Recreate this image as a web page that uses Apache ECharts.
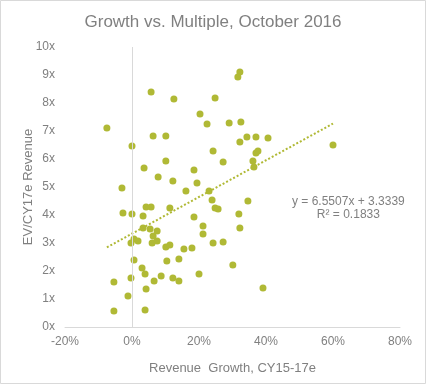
<!DOCTYPE html>
<html>
<head>
<meta charset="utf-8">
<script src="https://cdn.jsdelivr.net/npm/echarts@6/dist/echarts.min.js"></script>
<style>
html,body{margin:0;padding:0;background:#fff;}
#chart{width:426px;height:384px;}
</style>
</head>
<body>
<div id="chart"></div>
<script>
// Revenue growth CY15-17e (%)
var growth = [32.2,31.6,24.8,5.7,12.5,20.3,22.4,29.0,32.5,-7.5,
  6.3,10.1,34.3,37.0,40.6,32.2,60.0,0.0,24.2,37.0,
  37.6,10.1,27.2,36.1,36.4,3.6,18.5,7.8,12.2,19.4,
  -3.0,16.1,23.0,23.9,34.6,24.8,25.7,4.2,5.7,11.3,
  -2.7,0.0,31.9,3.3,18.5,21.2,32.2,3.3,5.4,7.5,
  21.2,6.3,0.6,-0.3,1.8,6.0,7.5,10.1,11.3,15.5,
  17.9,24.2,27.2,0.6,10.4,14.0,3.0,3.9,-0.3,-5.4,
  6.6,8.7,12.2,14.0,20.0,30.1,4.2,-1.2,-5.4,3.9,
  39.1];
// EV / CY17e revenue multiple (x)
var multiple = [9.11,8.93,8.18,8.39,8.14,7.61,7.25,7.29,7.32,7.11,
  6.82,6.82,6.79,6.79,6.75,6.61,6.50,6.46,6.29,6.21,
  6.29,5.93,5.89,5.93,5.71,5.68,5.61,5.36,5.21,5.14,
  4.96,4.86,4.86,4.54,4.50,4.25,4.21,4.29,4.29,4.25,
  4.07,4.04,4.04,3.96,3.93,3.61,3.54,3.54,3.50,3.43,
  3.32,3.25,3.14,3.00,3.07,3.00,3.07,2.86,2.93,2.79,
  2.82,3.00,3.04,2.39,2.36,2.43,2.11,1.89,1.75,1.61,
  1.64,1.82,1.75,1.64,1.89,2.21,1.36,1.11,0.57,0.61,
  1.39];
var xTicks = [-20, 0, 20, 40, 60, 80];
var yTicks = [0,1,2,3,4,5,6,7,8,9,10];
var trendSlope = 6.5507, trendIntercept = 3.3339, rSquared = 0.1833;
var trendRange = [-7.5, 60];

var points = growth.map(function(g, i){ return [g, multiple[i]]; });
var trend = trendRange.map(function(x){ return [x, trendSlope * x / 100 + trendIntercept]; });

var olive = '#b0b935';
var gray = '#808080';
var font = 'Liberation Sans, Arial, sans-serif';

var chart = echarts.init(document.getElementById('chart'));
chart.setOption({
  animation: false,
  backgroundColor: '#fff',
  title: {
    text: 'Growth vs. Multiple, October 2016',
    left: 'center', top: 9,
    textStyle: {color: gray, fontSize: 17, fontWeight: 'normal', fontFamily: font}
  },
  grid: {left: 65, right: 26, top: 47, bottom: 57},
  xAxis: {
    type: 'value', min: xTicks[0], max: xTicks[xTicks.length-1], interval: 20,
    name: 'Revenue  Growth, CY15-17e', nameLocation: 'middle', nameGap: 35,
    nameTextStyle: {color: gray, fontSize: 13, fontFamily: font},
    axisLine: {show: true, onZero: false, lineStyle: {color: '#d9d9d9', width: 1}},
    axisTick: {show: false},
    splitLine: {show: false},
    axisLabel: {color: gray, fontSize: 12, fontFamily: font, margin: 9,
      formatter: function(v){ return v + '%'; }}
  },
  yAxis: {
    type: 'value', min: yTicks[0], max: yTicks[yTicks.length-1], interval: 1,
    name: 'EV/CY17e Revenue', nameLocation: 'middle', nameGap: 30,
    nameMoveOverlap: false,
    nameTextStyle: {color: gray, fontSize: 13, fontFamily: font},
    axisLine: {show: false},
    axisTick: {show: false},
    splitLine: {show: false},
    axisLabel: {color: gray, fontSize: 12, fontFamily: font, margin: 10,
      formatter: function(v){ return v + 'x'; }}
  },
  graphic: [
    {type: 'rect', shape: {x: 0.5, y: 0.5, width: 425, height: 383},
     style: {fill: 'none', stroke: '#d9d9d9', lineWidth: 1}, silent: true},
    {type: 'text', left: 349 - 57, top: 195,
     style: {text: 'y = ' + trendSlope + 'x + ' + trendIntercept + '\nR² = ' + rSquared,
       fill: gray, font: '12px ' + font, textAlign: 'center', lineHeight: 13},
     silent: true}
  ],
  series: [
    {
      type: 'scatter', data: points, symbolSize: 7,
      itemStyle: {color: olive, opacity: 1},
      markLine: {
        silent: true, symbol: 'none', label: {show: false},
        lineStyle: {color: '#d9d9d9', type: 'solid', width: 1},
        data: [{xAxis: 0}]
      },
      z: 3
    },
    {
      type: 'line', data: trend, showSymbol: false, symbol: 'none',
      lineStyle: {color: olive, type: [2, 2], width: 2},
      z: 4
    }
  ]
});
</script>
</body>
</html>
